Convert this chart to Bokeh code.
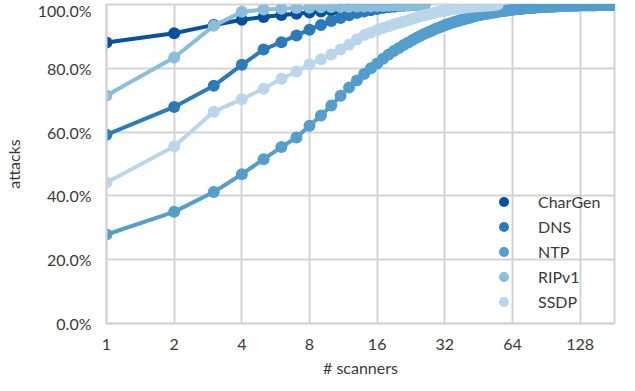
from bokeh.plotting import figure
from bokeh.models import Range1d, FixedTicker, PrintfTickFormatter, Legend, LegendItem
from bokeh.embed import file_html
from bokeh.resources import INLINE

# ---- data (share of attacks, %, vs number of scanners 1..N) ----
chargen = [88.1, 91.0, 93.6, 95.2, 96.1, 96.7, 97.1, 97.5, 97.8, 98.1, 98.3, 98.6, 98.8, 99.0,
           99.2, 99.4, 99.6, 99.8, 100.0]
dns = [59.2, 67.9, 74.5, 81.1, 85.9, 88.2, 90.3, 92.1, 93.6, 94.8, 95.8, 96.6, 97.3, 97.8, 98.2,
       98.6, 98.9, 99.1, 99.3, 99.5, 99.6, 99.7, 99.8, 99.9, 100.0, 100.0]
ntp = [27.9, 35.0, 41.2, 46.8, 51.5, 55.3, 58.3, 62.0, 65.2, 68.3, 71.4, 74.0, 76.2, 78.2, 80.0, 81.5,
       83.0, 84.3, 85.4, 86.4, 87.3, 88.1, 88.9, 89.6, 90.2, 90.8, 91.3, 91.8, 92.3, 92.7, 93.1, 93.5,
       93.8, 94.1, 94.4, 94.7, 94.9, 95.2, 95.4, 95.6, 95.8, 96.0, 96.2, 96.4, 96.6, 96.7, 96.9, 97.0,
       97.1, 97.2, 97.3, 97.4, 97.5, 97.6, 97.7, 97.8, 97.9, 98.0, 98.0, 98.1, 98.2, 98.2, 98.3, 98.4,
       98.4, 98.5, 98.5, 98.6, 98.6, 98.7, 98.7, 98.8, 98.8, 98.8, 98.9, 98.9, 98.9, 99.0, 99.0, 99.0,
       99.05, 99.1, 99.1, 99.1, 99.15, 99.2, 99.2, 99.2, 99.25, 99.25, 99.3, 99.3, 99.3, 99.35, 99.35, 99.4,
       99.4, 99.4, 99.4, 99.45, 99.45, 99.45, 99.5, 99.5, 99.5, 99.5, 99.55, 99.55, 99.55, 99.55, 99.6, 99.6,
       99.6, 99.6, 99.6, 99.65, 99.65, 99.65, 99.65, 99.65, 99.7, 99.7, 99.7, 99.7, 99.7, 99.7, 99.75, 99.75,
       99.75, 99.75, 99.75, 99.75, 99.75, 99.75, 99.75, 99.75, 99.8, 99.8, 99.8, 99.8, 99.8, 99.8, 99.8, 99.8,
       99.8, 99.8, 99.8, 99.8, 99.8, 99.8, 99.85, 99.85, 99.85, 99.85, 99.85, 99.85, 99.85, 99.85, 99.85, 99.85,
       99.85, 99.85, 99.85, 99.85, 99.9, 99.9, 99.9, 99.9, 99.9, 99.9, 99.9, 99.9, 99.9, 99.9, 99.9, 99.9,
       99.95, 99.95, 99.95, 99.95, 100.0, 100.0]
ripv1 = [71.5, 83.4, 93.3, 97.7, 98.4, 98.7, 98.9, 99.0, 99.1, 99.2, 99.25, 99.3, 99.35, 99.4, 99.45,
         99.5, 99.55, 99.6, 99.65, 99.7, 99.75, 99.8, 99.85, 99.9, 99.95, 100.0]
ssdp = [44.2, 55.5, 66.4, 70.3, 73.6, 76.7, 79.0, 81.2, 82.8, 84.3, 85.9, 87.4, 89.0, 90.4, 91.2, 92.0,
        92.6, 93.2, 93.7, 94.2, 94.7, 95.1, 95.5, 95.9, 96.3, 96.6, 96.9, 97.2, 97.5, 97.7, 97.9, 98.1,
        98.3, 98.4, 98.6, 98.7, 98.8, 98.9, 99.0, 99.1, 99.2, 99.3, 99.35, 99.4, 99.45, 99.5, 99.55, 99.6,
        99.65, 99.7, 99.75, 99.8, 99.85, 99.9, 100.0]

series_names = ["CharGen", "DNS", "NTP", "RIPv1", "SSDP"]
series_values = [chargen, dns, ntp, ripv1, ssdp]
colors = ["#08519c", "#2b7bba", "#539ecd", "#89bedc", "#bad6ea"]

x_ticks = [1, 2, 4, 8, 16, 32, 64, 128]
y_ticks = [0, 20, 40, 60, 80, 100]
x_max = 182

FONT = "Lato"
TXT = "#3a3a3a"
GRID = "#d4d4d4"

p = figure(frame_width=508, frame_height=319, x_axis_type="log", output_backend="svg",
           toolbar_location=None, x_range=Range1d(1, x_max), y_range=Range1d(0, 100),
           min_border_left=102, min_border_right=2, min_border_top=4, min_border_bottom=20)
p.background_fill_color = "white"
p.border_fill_color = "white"
p.outline_line_color = GRID
p.outline_line_width = 2

items = []
for name, vals, col in zip(series_names, series_values, colors):
    xs = list(range(1, len(vals) + 1))
    p.line(xs, vals, line_color=col, line_width=4, line_join="round", line_cap="round")
    r = p.scatter(xs, vals, size=12, fill_color=col, line_color=col, line_width=0)
    items.append(LegendItem(label=name, renderers=[r]))

legend = Legend(items=items, location=(385, 9), padding=0, margin=0, spacing=0,
                glyph_height=25, glyph_width=25, label_standoff=22, label_height=25,
                background_fill_alpha=0, border_line_alpha=0,
                label_text_font=FONT, label_text_font_size="16px", label_text_color=TXT)
p.add_layout(legend)

for ax in (p.xaxis, p.yaxis):
    ax.axis_line_color = GRID
    ax.axis_line_width = 2
    ax.major_tick_line_color = None
    ax.minor_tick_line_color = None
    ax.major_label_text_font = FONT
    ax.major_label_text_font_size = "16px"
    ax.major_label_text_color = TXT
    ax.axis_label_text_font = FONT
    ax.axis_label_text_font_size = "16px"
    ax.axis_label_text_color = TXT
    ax.axis_label_text_font_style = "normal"

p.xaxis.ticker = FixedTicker(ticks=x_ticks)
p.xaxis.formatter = PrintfTickFormatter(format="%d")
p.xaxis.axis_label = "# scanners"
p.xaxis.major_label_standoff = 9
p.xaxis.axis_label_standoff = 5

p.yaxis.ticker = FixedTicker(ticks=y_ticks)
p.yaxis.formatter = PrintfTickFormatter(format="%.1f%%")
p.yaxis.axis_label = "attacks"
p.yaxis.major_label_standoff = 9
p.yaxis.axis_label_standoff = 12

p.xgrid.ticker = FixedTicker(ticks=x_ticks)
p.ygrid.ticker = FixedTicker(ticks=y_ticks)
for g in (p.xgrid, p.ygrid):
    g.grid_line_color = GRID
    g.grid_line_width = 2

open("out.html", "w").write(file_html(p, INLINE))
